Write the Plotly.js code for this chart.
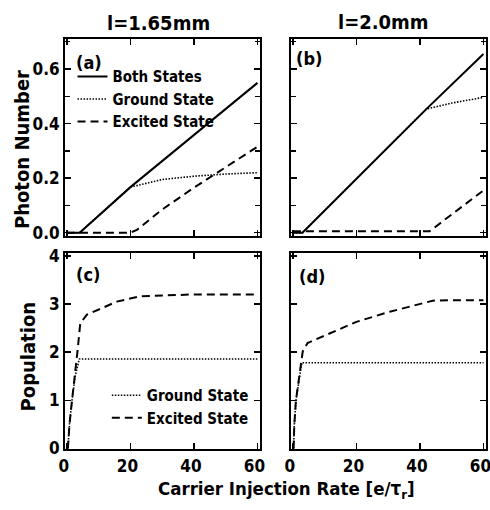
<!DOCTYPE html>
<html>
<head>
<meta charset="utf-8">
<script src="https://cdn.plot.ly/plotly-3.0.1.min.js"></script>
<style>html,body{margin:0;padding:0;background:#fff;}#chart{width:490px;height:510px;}</style>
</head>
<body>
<div id="chart"></div>
<script>
// ---- data ----
// panel (a) l=1.65mm photon number
var a_both_x = [0, 4, 20, 40, 60];
var a_both_y = [0, 0, 0.167, 0.358, 0.549];
var a_ground_x = [0, 4, 20, 30, 40, 50, 60];
var a_ground_y = [0, 0, 0.167, 0.195, 0.207, 0.215, 0.22];
var a_excited_x = [0, 20, 22, 30, 40, 50, 60];
var a_excited_y = [0, 0, 0.01, 0.085, 0.165, 0.24, 0.315];
// panel (b) l=2.0mm photon number
var b_both_x = [0, 3, 42, 60];
var b_both_y = [0, 0, 0.453, 0.655];
var b_ground_x = [0, 3, 42, 50, 60];
var b_ground_y = [0, 0, 0.453, 0.475, 0.496];
var b_excited_x = [0, 43, 60];
var b_excited_y = [0.005, 0.005, 0.155];
// panel (c) l=1.65mm population
var c_ground_x = [0.3, 0.8, 1.6, 2.6, 3.9, 60];
var c_ground_y = [0, 0.5, 1.0, 1.5, 1.86, 1.86];
var c_excited_x = [0.3, 0.8, 1.6, 2.6, 3.3, 4.2, 6.3, 10.5, 15.7, 23, 30, 40, 60];
var c_excited_y = [0, 0.5, 1.0, 1.55, 2.0, 2.6, 2.78, 2.9, 3.05, 3.16, 3.18, 3.2, 3.2];
// panel (d) l=2.0mm population
var d_ground_x = [0.2, 0.45, 0.95, 2, 2.8, 60];
var d_ground_y = [0, 0.5, 1.0, 1.45, 1.78, 1.78];
var d_excited_x = [0.2, 0.45, 0.95, 2, 3.1, 4.6, 8.8, 14, 20, 30.5, 40, 44, 50, 60];
var d_excited_y = [0, 0.5, 1.0, 1.5, 2.02, 2.19, 2.31, 2.47, 2.63, 2.84, 3.01, 3.07, 3.08, 3.08];

var photonTickVals = [0, 0.2, 0.4, 0.6];
var photonTickText = ['0.0', '0.2', '0.4', '0.6'];
var popTickVals = [0, 1, 2, 3, 4];
var xTickVals = [0, 20, 40, 60];

var panelLabels = ['(a)', '(b)', '(c)', '(d)'];
var columnTitles = ['l=1.65mm', 'l=2.0mm'];
var seriesNames = ['Both States', 'Ground State', 'Excited State'];

// ---- style ----
var FONT = '"DejaVu Sans Condensed", "Liberation Sans Narrow", "Arial Narrow", sans-serif';
var solid = {color: '#000', width: 2, dash: 'solid'};
var dotted = {color: '#000', width: 1.6, dash: '1.5px,1.5px'};
var dashed = {color: '#000', width: 2, dash: '8px,5px'};

function tr(x, y, line, name, xa, ya, legend, show) {
  return {x: x, y: y, mode: 'lines', line: line, name: name, xaxis: xa, yaxis: ya,
          legend: legend || 'legend', showlegend: !!show, hoverinfo: 'skip'};
}

var data = [
  tr(a_both_x, a_both_y, solid, seriesNames[0], 'x', 'y', 'legend', true),
  tr(a_ground_x, a_ground_y, dotted, seriesNames[1], 'x', 'y', 'legend', true),
  tr(a_excited_x, a_excited_y, dashed, seriesNames[2], 'x', 'y', 'legend', true),
  tr(b_both_x, b_both_y, solid, seriesNames[0], 'x2', 'y2'),
  tr(b_ground_x, b_ground_y, dotted, seriesNames[1], 'x2', 'y2'),
  tr(b_excited_x, b_excited_y, dashed, seriesNames[2], 'x2', 'y2'),
  tr(c_ground_x, c_ground_y, dotted, seriesNames[1], 'x3', 'y3', 'legend2', true),
  tr(c_excited_x, c_excited_y, dashed, seriesNames[2], 'x3', 'y3', 'legend2', true),
  tr(d_ground_x, d_ground_y, dotted, seriesNames[1], 'x4', 'y4'),
  tr(d_excited_x, d_excited_y, dashed, seriesNames[2], 'x4', 'y4')
];

var tickFont = {family: FONT, size: 17, color: '#000', weight: 'bold'};
function xax(domain, anchor, labels) {
  return {domain: domain, anchor: anchor, range: [-0.6, 60.8], tickvals: xTickVals,
    showticklabels: labels, ticks: 'inside', ticklen: 6, tickwidth: 1.5, tickcolor: '#000',
    showline: true, linewidth: 2, linecolor: '#000', mirror: 'ticks', showgrid: false, zeroline: false,
    tickfont: tickFont, ticklabelstandoff: 1, ticklabelshift: -3, ticklabeloverflow: 'allow'};
}
function yax(domain, anchor, labels, pop) {
  var o = {domain: domain, anchor: anchor, showticklabels: labels,
    ticks: 'inside', ticklen: 6, tickwidth: 1.5, tickcolor: '#000',
    showline: true, linewidth: 2, linecolor: '#000', mirror: 'ticks', showgrid: false, zeroline: false,
    tickfont: tickFont, ticklabeloverflow: 'allow'};
  if (pop) {
    o.range = [-0.01, 4.05]; o.tickvals = popTickVals;
  } else {
    o.range = [-0.012, 0.71]; o.tickvals = photonTickVals; o.ticktext = photonTickText;
    o.minor = {dtick: 0.1, tick0: 0, ticks: 'inside', ticklen: 5, tickwidth: 1.5, tickcolor: '#000', showgrid: false};
  }
  return o;
}

var xL = [0.1327, 0.5306], xR = [0.5939, 0.9918];
var yT = [0.5373, 0.9236], yB = [0.1196, 0.503];

var legFont = {family: FONT, size: 15, color: '#000', weight: 'bold'};
var titleFont = {family: FONT, size: 20, color: '#000', weight: 'bold'};
var axTitleFont = {family: FONT, size: 20, color: '#000', weight: 'bold'};
var xTitleFont = {family: FONT, size: 18.5, color: '#000', weight: 'bold'};
var panelFont = {family: FONT, size: 18, color: '#000', weight: 'bold'};
var layout = {
  width: 490, height: 510,
  margin: {l: 0, r: 0, t: 0, b: 0},
  paper_bgcolor: '#fff', plot_bgcolor: '#fff',
  xaxis: xax(xL, 'y', false),
  yaxis: yax(yT, 'x', true, false),
  xaxis2: xax(xR, 'y2', false),
  yaxis2: yax(yT, 'x2', false, false),
  xaxis3: xax(xL, 'y3', true),
  yaxis3: yax(yB, 'x3', true, true),
  xaxis4: xax(xR, 'y4', true),
  yaxis4: yax(yB, 'x4', false, true),
  legend: {x: 0.148, y: 0.882, xanchor: 'left', yanchor: 'top', bgcolor: 'rgba(0,0,0,0)',
    font: legFont, tracegroupgap: 0, itemwidth: 30},
  legend2: {x: 0.218, y: 0.257, xanchor: 'left', yanchor: 'top', bgcolor: 'rgba(0,0,0,0)',
    font: legFont, tracegroupgap: 0, itemwidth: 30},
  annotations: [
    {text: columnTitles[0], xref: 'paper', yref: 'paper', x: 0.324, y: 0.955, showarrow: false,
      font: titleFont, xanchor: 'center', yanchor: 'middle'},
    {text: columnTitles[1], xref: 'paper', yref: 'paper', x: 0.782, y: 0.957, showarrow: false,
      font: titleFont, xanchor: 'center', yanchor: 'middle'},
    {text: 'Photon Number', xref: 'paper', yref: 'paper', x: 0.045, y: 0.706, showarrow: false, textangle: -90,
      font: axTitleFont, xanchor: 'center', yanchor: 'middle'},
    {text: 'Population', xref: 'paper', yref: 'paper', x: 0.058, y: 0.3, showarrow: false, textangle: -90,
      font: axTitleFont, xanchor: 'center', yanchor: 'middle'},
    {text: 'Carrier Injection Rate [e/τ<sub>r</sub>]', xref: 'paper', yref: 'paper', x: 0.584, y: 0.040, showarrow: false,
      font: xTitleFont, xanchor: 'center', yanchor: 'middle'},
    {text: panelLabels[0], xref: 'paper', yref: 'paper', x: 0.150, y: 0.878, showarrow: false,
      font: panelFont, xanchor: 'left', yanchor: 'middle'},
    {text: panelLabels[1], xref: 'paper', yref: 'paper', x: 0.601, y: 0.885, showarrow: false,
      font: panelFont, xanchor: 'left', yanchor: 'middle'},
    {text: panelLabels[2], xref: 'paper', yref: 'paper', x: 0.152, y: 0.461, showarrow: false,
      font: panelFont, xanchor: 'left', yanchor: 'middle'},
    {text: panelLabels[3], xref: 'paper', yref: 'paper', x: 0.606, y: 0.457, showarrow: false,
      font: panelFont, xanchor: 'left', yanchor: 'middle'}
  ]
};

Plotly.newPlot('chart', data, layout, {staticPlot: true, displayModeBar: false});
</script>
</body>
</html>
